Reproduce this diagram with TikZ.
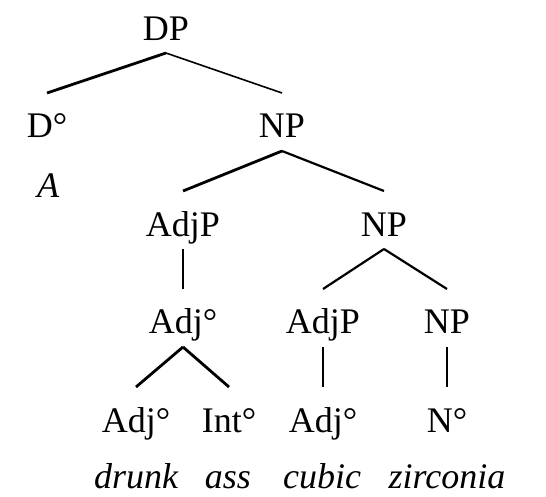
\documentclass[tikz,border=0pt]{standalone}
\usepackage{fontspec}
\setmainfont{Liberation Serif}
\usetikzlibrary{calc}
\begin{document}
\begin{tikzpicture}[x=1pt,y=-1pt,
  lbl/.style={anchor=base,inner sep=0pt,font=\fontsize{36}{40}\selectfont},
  wrd/.style={anchor=base,inner sep=0pt,font=\fontsize{36}{40}\selectfont\itshape},
  heavy/.style={line width=2.8pt},
  medium/.style={line width=2.2pt},
  light/.style={line width=1.6pt}]
\useasboundingbox (0,0) rectangle (546,496);
% level 1
\node[lbl] (dp) at (166,40) {DP};
% level 2
\node[lbl] (d) at (47,137) {D°};
\node[lbl] (np1) at (282,137) {NP};
\node[wrd] (a) at (48,197) {A};
% level 3
\node[lbl] (adjp1) at (183,236) {AdjP};
\node[lbl] (np2) at (384,236) {NP};
% level 4
\node[lbl] (adj1) at (183,333) {Adj°};
\node[lbl] (adjp2) at (323,333) {AdjP};
\node[lbl] (np3) at (447,333) {NP};
% level 5
\node[lbl] (adj2) at (136,432) {Adj°};
\node[lbl] (int) at (229,432) {Int°};
\node[lbl] (adj3) at (323,432) {Adj°};
\node[lbl] (n) at (447,432) {N°};
% words
\node[wrd] (w1) at (136,488) {drunk};
\node[wrd] (w2) at (228,488) {ass};
\node[wrd] (w3) at (322,488) {cubic};
\node[wrd] (w4) at (447,488) {zirconia};
% branches
\draw[heavy] ($(dp.base)+(0,13)$) -- ($(d.base)+(0,-44)$);
\draw[light] ($(dp.base)+(0,13)$) -- ($(np1.base)+(0,-44)$);
\draw[heavy] ($(np1.base)+(0,14)$) -- ($(adjp1.base)+(0,-45)$);
\draw[medium] ($(np1.base)+(0,14)$) -- ($(np2.base)+(0,-45)$);
\draw[light] ($(adjp1.base)+(0,13)$) -- ($(adj1.base)+(0,-44)$);
\draw[medium] ($(np2.base)+(0,13)$) -- ($(adjp2.base)+(0,-44)$);
\draw[medium] ($(np2.base)+(0,13)$) -- ($(np3.base)+(0,-44)$);
\draw[heavy] ($(adj1.base)+(0,14)$) -- ($(adj2.base)+(0,-45)$);
\draw[heavy] ($(adj1.base)+(0,14)$) -- ($(int.base)+(0,-45)$);
\draw[light] ($(adjp2.base)+(0,14)$) -- ($(adj3.base)+(0,-45)$);
\draw[light] ($(np3.base)+(0,14)$) -- ($(n.base)+(0,-45)$);
\end{tikzpicture}
\end{document}
